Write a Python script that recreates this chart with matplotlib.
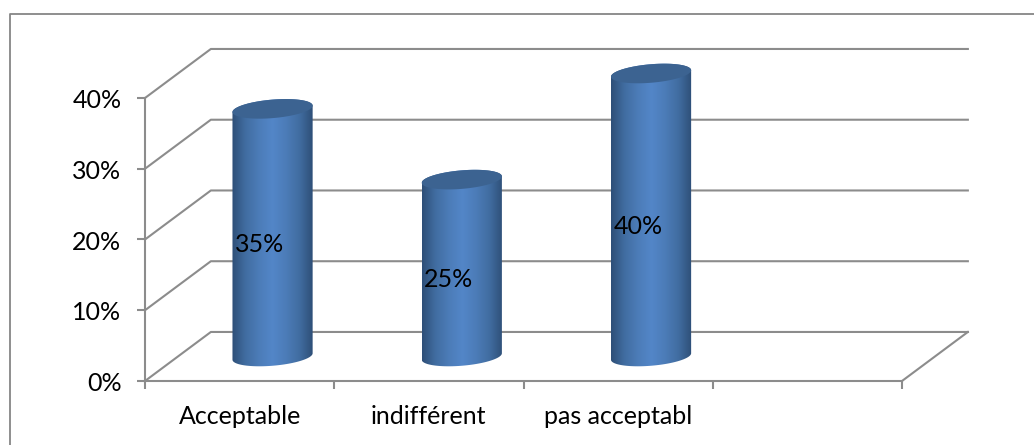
#3D style cylinder chart
import numpy as np
import matplotlib.pyplot as plt
from matplotlib.colors import LinearSegmentedColormap
from matplotlib.lines import Line2D
from matplotlib.patches import Polygon
from matplotlib.transforms import ScaledTranslation

categories = ['Acceptable', 'indifférent', 'pas acceptabl']
values = [35, 25, 40]
y_ticks = [0, 10, 20, 30, 40]
y_labels = ['0%', '10%', '20%', '30%', '40%']

grey = '#8c8c8c'
depth_x = 0.348  # floor depth in category units
depth_y = 6.93   # floor depth in percent units
radius = 0.2     # cylinder radius, as a share of a category and of the depth

plt.rcParams['font.family'] = 'Lato'

fig = plt.figure(figsize=(10.34, 4.45), dpi=100)
ax = fig.add_axes([145 / 1034, 64 / 445, 757 / 1034, 283 / 445])
ax.set_xlim(0, 4)
ax.set_ylim(0, 40)
ax.patch.set_alpha(0)

# outer frame, only the top and left edges are drawn
fig.add_artist(Line2D([10 / 1034, 10 / 1034, 1], [0, 1 - 13.5 / 445, 1 - 13.5 / 445], color='#868686', lw=1.3))

# back wall lines and the right edge of the floor
for t in y_ticks:
    ax.plot([0, depth_x, 4 + depth_x], [t, t + depth_y, t + depth_y], color=grey, lw=1.5, clip_on=False, zorder=1)
ax.plot([4, 4 + depth_x], [0, depth_y], color=grey, lw=1.5, clip_on=False, zorder=1)

shade = LinearSegmentedColormap.from_list('shade', ['#2e4f77', '#416da1', '#4c7cb8', '#5386c8', '#4c7cb8', '#416da1', '#2e4f77'])
gradient = np.linspace(0, 1, 256).reshape(1, -1)


def ring(cx, cy, angles):
    # circle lying on the floor plane, seen through the depth skew
    xs = cx + radius * np.cos(angles) + radius * depth_x * np.sin(angles)
    ys = cy + radius * depth_y * np.sin(angles)
    return np.column_stack([xs, ys])


for i, v in enumerate(values):
    cx = i + 0.5 + depth_x / 2
    cy = depth_y / 2
    # angle where the ring reaches its right side
    t0 = np.arctan2(depth_x, 1.0)
    lower = np.linspace(t0, t0 - np.pi, 60)
    upper = np.linspace(t0 + np.pi, t0, 60)
    body = np.vstack([ring(cx, cy, lower), ring(cx, cy + v, upper)])
    half = radius * np.hypot(1, depth_x)

    patch = Polygon(body, closed=True, transform=ax.transData, facecolor='none', edgecolor='none', clip_on=False)
    ax.add_patch(patch)
    im = ax.imshow(gradient, cmap=shade, aspect='auto', zorder=2,
                   extent=[cx - half, cx + half, cy - 2, cy + v + 2])
    im.set_clip_path(patch)
    im.set_clip_box(fig.bbox)

    top = Polygon(ring(cx, cy + v, np.linspace(0, 2 * np.pi, 120)), closed=True, facecolor='#3c6391',
                  edgecolor='none', zorder=3, clip_on=False)
    ax.add_patch(top)

    ax.annotate(f'{v}%', (cx, cy + v / 2), xytext=(-9.4, -8.6), textcoords='offset points',
                ha='center', va='center', fontsize=18, color='black', zorder=4)

# imshow resets the limits
ax.set_xlim(0, 4)
ax.set_ylim(0, 40)

for side in ['top', 'right']:
    ax.spines[side].set_visible(False)
for side in ['left', 'bottom']:
    ax.spines[side].set_color(grey)
    ax.spines[side].set_linewidth(1.5)

ax.set_yticks(y_ticks)
ax.set_yticklabels(y_labels, fontsize=18, color='black')
ax.set_xticks(range(5))
ax.set_xticklabels([])
ax.set_xticks(np.arange(len(categories)) + 0.5, categories, minor=True, fontsize=18, color='black')
ax.tick_params(axis='y', length=6, width=1.5, color=grey, pad=11)
ax.tick_params(axis='x', which='major', length=6, width=1.5, color=grey)
ax.tick_params(axis='x', which='minor', length=0, pad=17)

# y labels sit a little lower than the tick marks
shift = ScaledTranslation(0, -0.5 / 72, fig.dpi_scale_trans)
for label in ax.get_yticklabels():
    label.set_transform(label.get_transform() + shift)

plt.savefig('out.png', dpi=100)
